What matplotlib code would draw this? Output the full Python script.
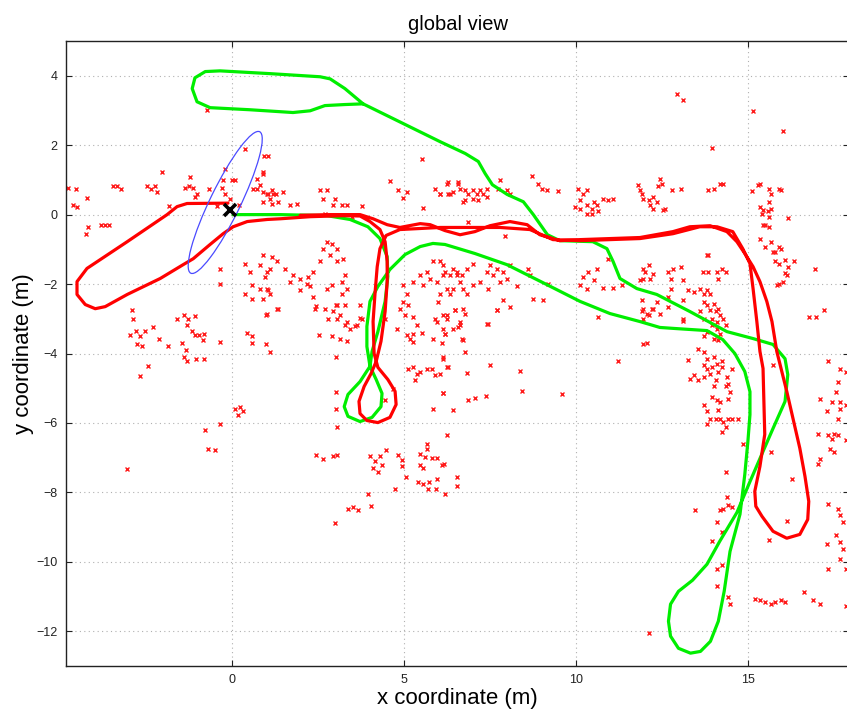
import matplotlib
matplotlib.use("Agg")
import matplotlib.pyplot as plt
from matplotlib.patches import Ellipse

plt.rcParams['font.family'] = ['Liberation Sans', 'DejaVu Sans']

# ---------------- data ----------------
title = "global view"
xlabel = "x coordinate (m)"
ylabel = "y coordinate (m)"
xticks = [0, 5, 10, 15]
yticks = [-12, -10, -8, -6, -4, -2, 0, 2, 4]
xlim = (-4.83, 17.94)
ylim = (-13, 5)

# estimated (red) trajectory
red_x = [-0.12, -1.31, -1.60, -1.89, -3.05, -4.22, -4.51, -4.51, -4.27, -3.98, -3.69, -3.05, -2.09,
         -1.42, -1.13, -0.64, -0.26, 0.03, 0.44, 1.02, 1.40, 2.27, 3.23, 3.72, 4.01, 4.30, 4.45,
         4.51, 4.51, 4.45, 4.33, 4.19, 4.04, 3.84, 3.69, 3.72, 3.92, 4.24, 4.59, 4.77, 4.74, 4.53,
         4.24, 4.13, 4.10, 4.16, 4.22, 4.30, 4.48, 4.88, 5.47, 6.05, 6.92, 7.79, 8.66, 9.33, 10.12,
         11.86, 12.82, 13.60, 14.10, 14.56, 14.85, 15.06, 15.15, 15.26, 15.35, 15.44, 15.49, 15.35,
         15.20, 15.23, 15.41, 15.73, 16.13, 16.51, 16.74, 16.77, 16.66, 16.51, 16.13, 15.84, 15.70,
         15.55, 15.35, 15.15, 14.91, 14.68, 14.39, 13.90, 13.31, 12.82, 11.86, 10.12, 9.53, 8.95,
         8.58, 8.08, 7.50, 7.06, 6.63, 6.19, 5.76, 5.47, 4.88, 4.51, 4.10, 3.72, 2.85, 1.98]
red_y = [0.33, 0.32, 0.23, 0.00, -0.78, -1.55, -1.93, -2.30, -2.59, -2.71, -2.65, -2.30, -1.84,
         -1.44, -1.27, -0.86, -0.55, -0.35, -0.20, -0.14, -0.12, -0.06, -0.03, -0.04, -0.20, -0.43,
         -0.78, -1.35, -1.93, -2.79, -3.65, -4.23, -4.58, -4.95, -5.38, -5.73, -5.93, -5.99, -5.84,
         -5.47, -5.09, -4.75, -4.40, -4.00, -3.08, -2.22, -1.50, -0.98, -0.60, -0.43, -0.40, -0.37,
         -0.37, -0.37, -0.43, -0.72, -0.75, -0.69, -0.55, -0.35, -0.35, -0.49, -0.98, -1.41, -2.13,
         -3.08, -3.94, -4.43, -6.33, -7.25, -7.97, -8.40, -8.69, -9.12, -9.32, -9.21, -8.78, -8.26,
         -7.54, -6.73, -5.09, -3.94, -3.08, -2.50, -1.93, -1.50, -1.12, -0.78, -0.49, -0.32, -0.35,
         -0.49, -0.66, -0.72, -0.75, -0.58, -0.29, -0.20, -0.32, -0.49, -0.58, -0.46, -0.29, -0.26,
         -0.37, -0.29, -0.12, 0.00, 0.00, -0.02]

# odometry (green) trajectory
green_x = [0.03, 1.40, 2.76, 3.43, 3.95, 4.30, 4.51, 4.53, 4.45, 4.24, 4.07, 4.01, 3.72, 3.37, 3.26,
           3.37, 3.72, 4.07, 4.33, 4.36, 4.19, 4.01, 3.92, 3.92, 4.01, 4.24, 4.59, 5.03, 5.47, 5.84,
           6.19, 7.06, 7.99, 9.10, 10.12, 10.99, 11.86, 12.44, 12.88, 13.81, 14.27, 14.62, 14.91,
           15.06, 15.06, 15.00, 14.91, 14.77, 14.48, 14.31, 14.14, 13.91, 13.62, 13.33, 12.98, 12.75,
           12.69, 12.75, 12.98, 13.39, 13.81, 14.18, 14.68, 15.06, 15.44, 15.73, 16.08, 16.16, 16.08,
           15.73, 15.15, 14.39, 13.31, 12.35, 11.77, 11.28, 11.08, 10.90, 10.49, 9.53, 9.17, 8.76,
           8.47, 8.00, 7.57, 7.36, 7.16, 6.78, 6.05, 3.81, 3.28, 2.85, 2.56, 1.10, -0.35, -0.78,
           -1.08, -1.16, -1.02, -0.64, 0.52, 1.77, 2.27, 2.70, 3.28, 3.81]
green_y = [0.00, 0.00, -0.03, -0.14, -0.35, -0.69, -1.21, -1.78, -2.50, -3.37, -3.94, -4.37, -4.81,
           -5.18, -5.53, -5.81, -5.96, -5.84, -5.53, -5.15, -4.75, -4.37, -3.80, -3.22, -2.50, -2.07,
           -1.58, -1.15, -0.92, -0.83, -0.86, -1.12, -1.44, -1.99, -2.50, -2.85, -3.08, -3.25, -3.28,
           -3.34, -3.60, -4.00, -4.52, -5.10, -5.76, -6.53, -7.48, -8.63, -9.70, -10.85, -11.71,
           -12.29, -12.58, -12.63, -12.49, -12.14, -11.71, -11.22, -10.85, -10.53, -10.07, -9.41,
           -8.58, -7.69, -6.82, -6.16, -5.38, -4.61, -4.15, -3.74, -3.57, -3.37, -2.79, -2.30, -2.13,
           -1.84, -1.35, -0.98, -0.78, -0.75, -0.58, 0.00, 0.37, 0.58, 0.86, 1.18, 1.53, 1.76, 2.10,
           3.19, 3.63, 3.91, 3.97, 4.06, 4.14, 4.12, 3.94, 3.63, 3.25, 3.08, 3.02, 2.94, 2.99, 3.14,
           3.17, 3.19]

# uncertainty ellipse and current pose
ell_center = (-0.20, 0.35)
ell_semi_major = 2.27
ell_semi_minor = 0.44
ell_angle = 63.8
pose = (-0.06, 0.12)

# landmarks, by area
lm_west = [(-4.77, 0.78), (-4.54, 0.75), (-4.22, 0.49), (-4.63, 0.29), (-4.51, 0.23), (-4.19, -0.35),
           (-4.25, -0.55), (-3.81, -0.29), (-3.70, -0.29), (-3.58, -0.29), (-3.46, 0.81), (-3.35, 0.81),
           (-3.23, 0.75), (-2.47, 0.81), (-2.36, 0.75), (-2.24, 0.81), (-2.18, 0.66), (-2.04, 1.24),
           (-1.83, 0.26), (-1.37, 0.78), (-1.25, 0.81), (-1.13, 0.78), (-1.22, 1.09), (-1.08, 0.52),
           (-1.02, 0.58), (-0.67, 0.75), (-0.44, 0.26), (-0.29, 0.78), (-0.20, 0.60), (-0.26, 1.01),
           (0.00, 1.01), (0.09, 1.01), (-0.06, 0.46), (0.20, 0.29), (-0.20, 1.32), (0.38, 1.90),
           (0.93, 1.70), (1.05, 1.70), (0.90, 1.24), (-0.73, 3.02),
           (-2.91, -2.76), (-2.88, -3.02), (-2.97, -3.46), (-2.79, -3.34), (-2.68, -3.51), (-2.53, -3.34),
           (-2.76, -3.74), (-2.62, -3.77), (-2.68, -4.64), (-2.44, -4.35), (-2.30, -3.25), (-2.12, -3.57),
           (-1.86, -3.77), (-1.60, -3.00), (-1.40, -2.88), (-1.28, -3.00), (-1.08, -2.91), (-1.31, -3.17),
           (-1.16, -3.34), (-1.08, -3.46), (-0.96, -3.46), (-0.81, -3.43), (-0.84, -3.60), (-1.46, -3.69),
           (-1.34, -3.89), (-1.40, -4.09), (-1.31, -4.23), (-1.05, -4.15), (-0.81, -4.15), (-0.35, -3.66),
           (-3.06, -7.34), (-0.79, -6.19), (-0.70, -6.74), (-0.49, -6.77), (-0.35, -6.02), (0.09, -5.59),
           (0.23, -5.53), (0.32, -5.67), (0.17, -5.76), (-0.35, -1.58), (-0.35, -1.99)]

lm_center = [(0.90, 1.18), (0.81, 0.86), (0.73, 0.75), (0.90, 0.66), (1.05, 0.60), (1.19, 0.58),
             (1.11, 0.46), (0.90, 0.37), (1.16, 0.32), (1.02, 0.58), (1.48, 0.66), (1.69, 0.29),
             (1.89, 0.32), (1.34, 0.37), (1.16, 0.72), (1.28, 0.58), (0.73, 1.04), (0.61, 0.75),
             (2.56, 0.72), (2.76, 0.72), (2.65, 0.46), (3.00, 0.46), (2.94, 0.29), (3.20, 0.29),
             (3.35, 0.29), (3.78, 0.26), (3.49, -0.06), (2.71, 0.03), (5.53, 1.61), (4.60, 0.98),
             (4.83, 0.72), (5.09, 0.66), (4.98, 0.49), (5.56, 0.20), (5.91, 0.75), (6.05, 0.60),
             (6.29, 0.60), (6.26, 0.89), (6.58, 0.95), (6.63, 0.75),
             (0.38, -1.41), (0.52, -1.64), (0.90, -1.15), (1.16, -1.21), (0.81, -1.44), (1.11, -1.56),
             (0.96, -1.79), (0.58, -2.02), (0.81, -2.13), (1.05, -2.16), (1.11, -2.30), (0.38, -2.30),
             (0.58, -2.42), (0.90, -2.42), (1.02, -2.85), (1.31, -2.71), (1.31, -1.35), (1.54, -1.56),
             (1.78, -1.73), (1.98, -1.84), (1.69, -1.93), (1.98, -2.16), (2.21, -1.79), (2.36, -1.64),
             (2.56, -1.35), (2.65, -0.98), (2.76, -0.78), (2.91, -0.86), (3.06, -0.98), (2.85, -1.15),
             (3.06, -1.35), (3.23, -1.27), (3.29, -1.73), (3.20, -1.93), (3.35, -2.13), (3.20, -2.30),
             (3.06, -2.59), (3.29, -2.59), (3.06, -3.00), (3.35, -3.08), (3.43, -3.28), (3.72, -2.59),
             (3.78, -3.00), (3.64, -3.17), (2.18, -1.99), (1.02, -1.64), (1.02, -2.13), (1.34, -2.71),
             (2.42, -2.71), (2.71, -2.71), (2.76, -2.13), (2.91, -2.02), (2.27, -2.07), (2.36, -2.36),
             (2.53, -3.46), (2.91, -3.51), (3.14, -3.57), (3.35, -3.63), (2.79, -3.00), (2.94, -2.79),
             (3.14, -2.88), (3.29, -3.17), (3.58, -3.20), (3.72, -2.97), (2.44, -2.62), (3.03, -2.59),
             (3.03, -4.09), (3.03, -5.10), (3.03, -5.59), (3.06, -6.11), (2.44, -6.91), (2.65, -7.03),
             (2.94, -6.94), (3.06, -6.91), (3.38, -8.47), (3.52, -8.41), (3.67, -8.50), (3.96, -8.06),
             (4.04, -8.38), (3.00, -8.87), (0.44, -3.40), (0.58, -3.51), (0.58, -3.69), (0.99, -3.74),
             (1.11, -3.97), (0.99, -2.88)]

lm_middle = [(4.02, -6.94), (4.31, -6.94), (4.16, -7.11), (4.37, -7.20), (4.10, -7.29), (4.25, -7.40),
             (4.48, -6.77), (4.83, -6.91), (4.95, -7.08), (4.95, -7.23), (4.74, -7.89), (5.06, -7.57),
             (5.47, -6.88), (5.62, -6.97), (5.67, -6.74), (5.47, -7.20), (5.56, -7.29), (5.82, -7.00),
             (5.97, -7.00), (6.11, -7.20), (5.41, -7.69), (5.56, -7.75), (5.73, -7.69), (5.97, -7.60),
             (5.70, -7.89), (5.94, -7.89), (6.20, -8.06), (6.26, -6.34), (5.67, -6.60),
             (5.12, -4.46), (5.27, -4.38), (5.38, -4.58), (5.33, -4.75), (5.47, -4.52), (5.67, -4.44),
             (5.82, -4.46), (5.91, -4.61), (6.05, -4.58), (6.14, -4.15), (6.29, -4.38), (5.85, -5.59),
             (6.14, -5.13), (6.43, -5.62), (4.69, -5.01), (4.45, -5.33), (6.55, -7.55), (6.55, -7.83),
             (5.03, -2.88), (5.27, -2.94), (5.09, -3.46), (5.27, -3.43), (5.53, -3.40), (5.38, -3.17),
             (5.85, -3.57), (6.11, -3.69), (6.20, -3.43), (5.97, -3.08), (6.14, -2.88), (6.26, -3.00),
             (6.49, -2.74), (6.58, -3.23), (4.98, -2.51), (5.12, -2.59), (5.99, -2.51), (4.98, -2.02),
             (5.09, -2.30), (4.89, -2.71), (5.27, -1.93), (5.47, -1.73), (5.67, -1.64), (5.76, -1.84),
             (5.56, -2.02), (5.97, -1.93), (6.14, -1.73), (6.26, -2.13), (6.05, -2.30), (6.34, -2.30),
             (6.55, -1.73), (6.63, -1.93), (5.85, -1.35), (6.14, -1.44), (6.43, -1.56), (5.91, -3.02),
             (6.14, -3.28), (5.18, -3.57), (4.80, -3.28), (4.45, -3.00), (6.63, -3.08), (5.27, -3.66),
             (6.05, -1.35), (6.20, -1.64), (6.34, -1.73), (6.55, -1.64), (6.69, -1.73), (6.84, -1.56),
             (7.01, -1.41), (6.43, -2.13), (6.72, -2.13), (6.84, -2.30), (7.01, -2.02), (7.22, -1.93),
             (7.42, -1.64), (7.51, -1.44), (7.71, -1.56), (7.60, -1.73), (7.80, -1.93), (7.89, -1.64),
             (8.00, -1.84), (7.45, -2.13), (8.09, -1.44), (8.29, -2.07), (8.61, -1.56), (8.67, -1.73),
             (8.76, -2.42), (9.05, -2.45), (7.89, -2.45), (8.09, -2.65), (7.71, -2.74), (7.45, -3.14),
             (6.49, -2.74), (6.72, -2.71), (6.26, -2.88), (6.63, -3.17), (6.43, -3.28), (6.69, -3.57),
             (9.20, -1.99), (6.78, -2.85), (6.20, -3.43), (7.42, -3.14), (7.71, -2.76), (6.14, -4.09),
             (6.72, -3.60), (6.78, -3.95), (6.26, -4.38), (6.84, -4.55), (7.51, -4.32), (8.38, -4.49),
             (6.14, -5.13), (6.87, -5.33), (7.07, -5.27), (7.39, -5.21), (8.44, -5.07), (9.60, -5.16),
             (6.17, -7.17)]

lm_north = [(6.29, 0.95), (6.58, 0.89), (6.05, 0.60), (6.34, 0.60), (6.43, 0.66), (6.78, 0.72),
            (6.87, 0.60), (7.01, 0.72), (7.13, 0.60), (7.22, 0.72), (7.30, 0.60), (7.42, 0.52),
            (6.78, 0.43), (7.01, 0.46), (7.16, 0.43), (7.42, 0.75), (6.72, 0.37), (7.80, 1.01),
            (7.74, 0.75), (8.00, 0.72), (8.09, 0.60), (8.73, 1.12), (8.90, 0.89), (9.02, 0.75),
            (9.17, 0.72), (9.49, 0.69), (10.07, 0.75), (10.33, 0.72), (10.21, 0.58), (10.13, 0.43),
            (9.98, 0.23), (10.13, 0.17), (10.33, 0.29), (10.48, 0.17), (10.51, 0.37), (10.62, 0.29),
            (10.65, 0.09), (10.33, 0.03), (10.48, 0.03), (10.80, 0.46), (10.94, 0.43), (11.09, 0.46),
            (11.81, 0.86), (11.87, 0.72), (11.93, 0.58), (11.96, 0.46), (12.11, 0.43), (12.25, 0.52),
            (12.37, 0.37), (12.16, 0.29), (12.25, 0.17), (12.54, 0.14), (12.45, 1.04), (12.51, 0.89),
            (12.40, 0.81), (12.80, 0.72), (13.04, 0.75), (13.85, 0.72), (14.00, 0.75), (14.20, 0.89),
            (14.29, 0.89), (6.87, -0.20), (7.94, -0.63), (12.60, 0.17), (12.95, 3.48), (13.12, 3.31),
            (15.16, 2.97), (16.01, 2.42), (13.97, 1.93)]

lm_east = [(15.13, 0.69), (15.28, 0.86), (15.36, 0.89), (15.60, 0.75), (15.66, 0.60), (15.89, 0.75),
           (15.95, 0.72), (15.36, 0.23), (15.45, 0.14), (15.57, 0.09), (15.42, 0.03), (15.60, 0.37),
           (15.66, 0.17), (16.18, -0.09), (15.51, -0.29), (15.60, -0.35), (15.60, -0.06), (15.45, -0.29),
           (15.34, -0.69), (15.66, -0.78), (15.51, -0.92), (15.89, -0.92), (15.74, -1.09), (15.89, -1.41),
           (16.09, -1.32), (16.33, -1.35), (16.18, -1.50), (16.09, -1.67), (15.89, -1.99), (16.01, -1.93),
           (15.86, -2.02), (16.94, -1.56), (16.79, -2.94), (16.99, -2.94), (17.20, -2.76), (13.85, -1.15),
           (15.80, -1.07), (15.95, -0.98), (15.80, -1.35), (16.15, -1.73),
           (10.36, -1.64), (10.62, -1.56), (10.21, -1.79), (10.51, -1.87), (10.80, -2.10), (11.09, -2.10),
           (11.35, -2.04), (10.94, -1.27), (10.13, -2.02), (10.33, -2.13), (10.65, -2.94), (11.96, -1.56),
           (12.11, -1.44), (12.02, -1.64), (12.16, -1.84), (12.25, -1.70), (11.96, -1.84), (11.87, -1.87),
           (12.69, -1.64), (12.75, -1.84), (12.83, -1.56), (13.04, -1.50), (13.10, -1.87), (12.75, -2.13),
           (12.69, -2.36), (11.93, -2.45), (11.96, -2.71), (12.25, -2.71), (12.37, -2.51), (12.08, -2.85),
           (12.45, -2.85), (12.69, -2.65), (13.12, -2.45), (13.10, -3.02), (13.82, -1.15), (13.85, -1.64),
           (14.11, -1.64), (14.26, -1.56), (14.35, -1.64), (14.14, -1.84), (13.68, -1.64), (13.27, -2.16),
           (13.42, -2.22), (13.62, -2.13), (13.71, -2.28), (13.82, -2.16), (13.91, -2.30), (13.71, -2.51),
           (13.82, -2.59), (14.00, -2.56), (13.91, -2.74), (14.06, -2.79), (14.14, -2.71), (14.20, -2.88),
           (13.97, -3.00), (14.11, -3.08), (14.29, -3.00), (14.35, -3.17), (13.82, -3.37), (13.71, -3.51),
           (14.00, -3.57), (11.23, -4.23), (11.96, -3.72), (12.08, -3.69), (11.93, -2.79), (12.11, -2.88),
           (11.96, -3.00), (12.22, -2.71), (13.10, -3.05), (13.62, -2.79), (13.71, -3.00), (13.97, -3.17),
           (14.11, -3.28), (14.20, -3.43), (14.14, -3.60), (13.56, -3.86), (13.71, -3.95), (13.82, -4.15),
           (14.00, -4.09), (13.71, -4.32), (13.82, -4.44), (13.97, -4.38), (14.11, -4.29), (14.26, -4.23),
           (14.26, -4.38), (14.14, -4.52), (13.91, -4.58), (13.71, -4.67), (13.56, -4.75), (13.33, -4.72),
           (13.27, -4.18), (13.42, -4.61), (14.06, -4.75), (14.40, -4.67), (14.43, -4.87), (14.35, -4.95),
           (14.00, -4.95), (14.55, -4.44), (14.49, -5.10), (13.97, -5.24), (14.11, -5.33), (14.20, -5.39),
           (14.43, -5.30), (13.71, -5.47), (13.82, -5.67), (14.14, -5.62), (13.91, -5.90), (14.06, -5.88),
           (14.20, -5.88), (14.29, -5.96), (14.43, -5.90), (14.55, -5.88), (14.70, -5.88), (14.35, -6.11),
           (14.26, -6.25), (13.82, -6.02), (14.87, -6.62)]

lm_south = [(14.35, -7.40), (14.40, -8.12), (14.43, -8.35), (14.29, -8.47), (14.20, -8.50), (14.55, -8.41),
            (13.47, -8.50), (14.11, -8.84), (14.26, -9.13), (13.97, -9.39), (14.11, -10.20), (14.26, -10.08),
            (14.11, -10.71), (14.43, -11.00), (14.49, -11.20), (12.11, -12.04), (15.74, -4.32), (15.66, -6.83),
            (16.27, -7.60), (16.15, -8.81), (15.60, -9.36), (15.22, -11.06), (15.36, -11.09), (15.51, -11.15),
            (15.66, -11.20), (15.80, -11.15), (15.95, -11.09), (16.09, -11.15), (16.62, -10.86), (16.88, -11.09),
            (17.11, -11.20), (17.84, -11.26), (17.34, -4.23), (17.69, -4.44), (17.84, -4.52), (17.63, -4.81),
            (17.55, -5.10), (17.11, -5.30), (17.31, -5.67), (17.46, -5.39), (17.69, -5.39), (17.69, -5.59),
            (17.84, -5.47), (17.61, -5.90), (17.05, -6.31), (17.34, -6.34), (17.49, -6.31), (17.61, -6.34),
            (17.46, -6.45), (17.84, -6.48), (17.40, -6.74), (17.49, -6.83), (17.11, -7.03), (17.05, -7.17),
            (17.34, -8.32), (17.61, -8.47), (17.69, -8.64), (17.78, -8.84), (17.55, -9.22), (17.69, -9.42),
            (17.78, -9.62), (17.31, -9.50), (17.34, -10.20), (17.69, -9.91), (17.84, -10.20)]

landmark_groups = [lm_west, lm_center, lm_middle, lm_north, lm_east, lm_south]

# ---------------- figure ----------------
fig = plt.figure(figsize=(8.47, 7.13), dpi=100)
ax = fig.add_axes([66 / 847, 47 / 713, 783 / 847, 625 / 713])

for grp in landmark_groups:
    gx = [p[0] for p in grp]
    gy = [p[1] for p in grp]
    ax.plot(gx, gy, linestyle='none', marker='x', color='#ff1a1a',
            markersize=3.4, markeredgewidth=1.0, zorder=2)

ax.plot(green_x, green_y, color='#00ee00', linewidth=2.3, solid_joinstyle='round',
        solid_capstyle='round', zorder=3)
ax.plot(red_x, red_y, color='#ff0000', linewidth=2.3, solid_joinstyle='round',
        solid_capstyle='round', zorder=4)

ax.add_patch(Ellipse(ell_center, width=2 * ell_semi_major, height=2 * ell_semi_minor,
                     angle=ell_angle, fill=False, edgecolor='#4a4aff', linewidth=0.9, zorder=5))
ax.plot([pose[0]], [pose[1]], marker='x', color='black', markersize=8,
        markeredgewidth=2.6, linestyle='none', zorder=6)

ax.set_xlim(*xlim)
ax.set_ylim(*ylim)
ax.set_xticks(xticks)
ax.set_yticks(yticks)
ax.set_xticklabels([str(t) for t in xticks])
ax.set_yticklabels([str(t).replace('-', '\u2212') for t in yticks])
ax.grid(True, linestyle=(0, (1, 3)), color='#b0b0b0', linewidth=0.8)
ax.tick_params(direction='in', length=4, width=0.8, top=True, right=True,
               labelsize=9, colors='#222222', pad=6)
for sp in ax.spines.values():
    sp.set_linewidth(1.0)
    sp.set_color('#222222')

ax.set_title(title, fontsize=14.5, pad=8)
ax.set_xlabel(xlabel, fontsize=16, labelpad=1)
ax.set_ylabel(ylabel, fontsize=16, labelpad=2)

fig.savefig('out.png', dpi=100)
